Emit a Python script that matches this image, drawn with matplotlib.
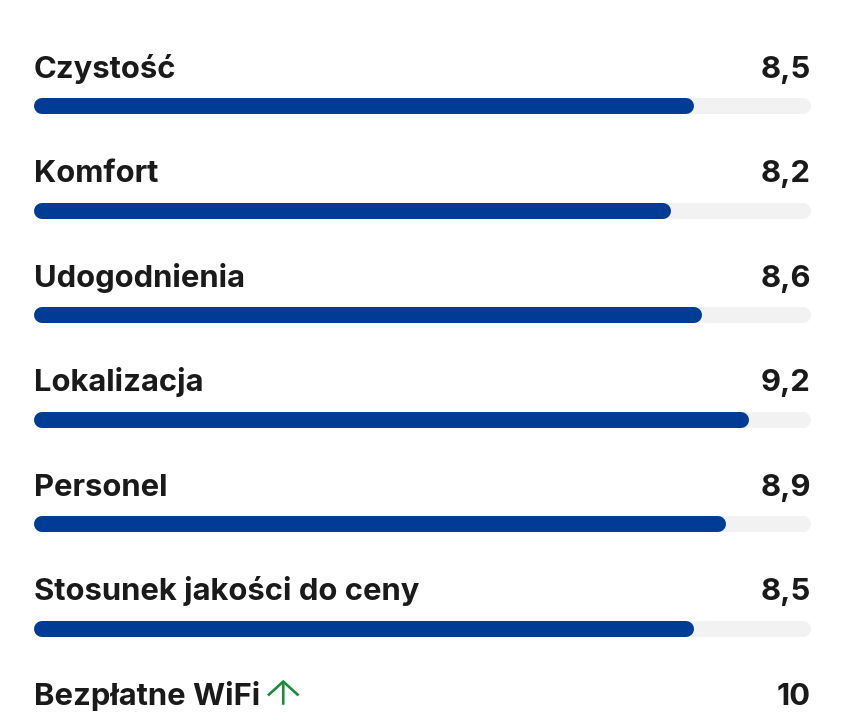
import matplotlib
matplotlib.use("Agg")
import matplotlib.pyplot as plt

categories = ["Czystość", "Komfort", "Udogodnienia", "Lokalizacja", "Personel",
              "Stosunek jakości do ceny", "Bezpłatne WiFi"]
scores = [8.5, 8.2, 8.6, 9.2, 8.9, 8.5, 10.0]
score_labels = ["8,5", "8,2", "8,6", "9,2", "8,9", "8,5", "10"]
trending_up = [False, False, False, False, False, False, True]
max_score = 10.0

BLUE = "#003b95"
TRACK = "#f2f2f2"
TEXT = "#1a1a1a"
GREEN = "#1e8a3c"

W, H, DPI = 845, 720, 100
fig = plt.figure(figsize=(W / DPI, H / DPI), dpi=DPI)
fig.patch.set_facecolor("white")

left_px, right_px = 34, 811
first_bar_px, row_px = 106, 104.5
ax = fig.add_axes([left_px / W, 0, (right_px - left_px) / W, 1])
ax.set_xlim(0, max_score)
ax.set_ylim((H - first_bar_px) / row_px, -first_bar_px / row_px)
ax.axis("off")

bar_px = 16
lw_pt = bar_px * 72 / DPI
# radius of the rounded end, in data units along x
r = (bar_px / 2) * max_score / (right_px - left_px)

for i, (name, val, lab, up) in enumerate(zip(categories, scores, score_labels, trending_up)):
    ax.plot([r, max_score - r], [i, i], color=TRACK, lw=lw_pt,
            solid_capstyle="round", clip_on=False)
    ax.plot([r, val - r], [i, i], color=BLUE, lw=lw_pt,
            solid_capstyle="round", clip_on=False)
    base = i - 0.27
    t = ax.text(0, base, name, ha="left", va="baseline", fontsize=22.3,
                fontfamily="Inter", fontweight="bold", color=TEXT)
    ax.text(max_score, base, lab, ha="right", va="baseline", fontsize=22.3,
            fontfamily="Inter", fontweight="bold", color=TEXT)
    if up:
        # upward trend arrow placed just after the label
        fig.canvas.draw()
        bb = t.get_window_extent()
        base_px = ax.transData.transform((0, base))[1]
        cx = bb.x1 + 23
        ax.annotate("", xy=(cx, base_px + 25), xytext=(cx, base_px),
                    xycoords="figure pixels", textcoords="figure pixels",
                    arrowprops=dict(arrowstyle="->,head_length=0.5,head_width=0.55",
                                    color=GREEN, lw=1.9, mutation_scale=20,
                                    shrinkA=0, shrinkB=0, joinstyle="miter",
                                    capstyle="butt"))

fig.savefig("out.png", dpi=DPI, facecolor="white")
